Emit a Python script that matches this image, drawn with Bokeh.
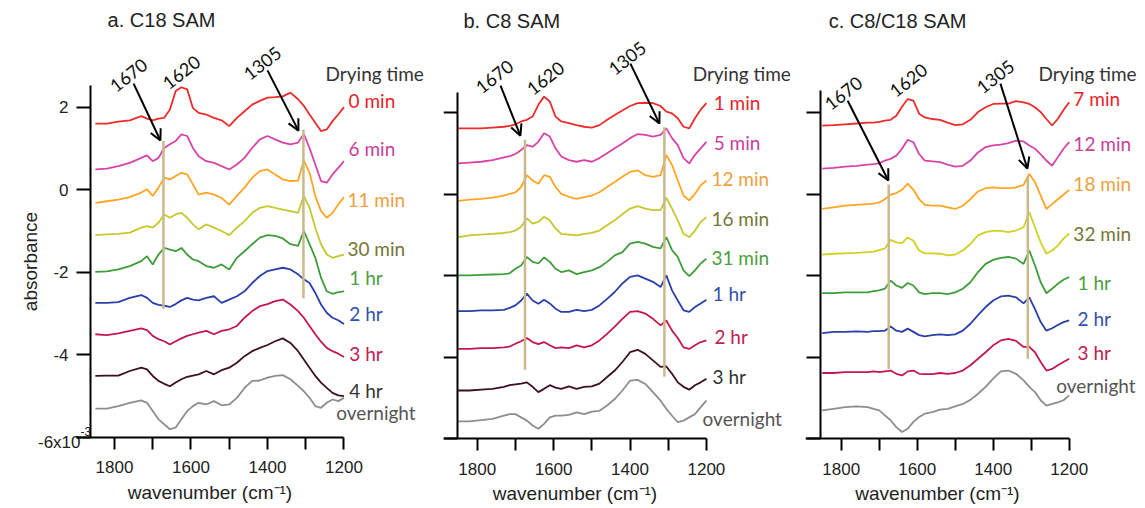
from bokeh.plotting import figure
from bokeh.layouts import row
from bokeh.models import Range1d, FixedTicker, Arrow, OpenHead
from bokeh.embed import file_html
from bokeh.resources import INLINE
from bokeh.core.properties import value

# wavenumber grid (cm-1)
W = [1850, 1820, 1790, 1760, 1730, 1715, 1700, 1685, 1670, 1655, 1640, 1625, 1610, 1595, 1580,
     1560, 1540, 1520, 1500, 1480, 1460, 1440, 1420, 1400, 1380, 1360, 1340, 1320, 1305, 1290,
     1275, 1260, 1245, 1230, 1215, 1200]

# ---- panel a: C18 SAM (absorbance x1e-3, stacked) ----
a_labels = ["0 min", "6 min", "11 min", "30 min", "1 hr", "2 hr", "3 hr", "4 hr", "overnight"]
a_0min = [1.60, 1.60, 1.65, 1.68, 1.78, 1.72, 1.68, 1.72, 1.74, 1.94, 2.39, 2.48, 2.43, 1.98, 1.86, 1.82, 1.74, 1.68, 1.54, 1.74, 1.90, 2.06, 2.15, 2.23, 2.24, 2.26, 2.35, 2.19, 2.03, 1.82, 1.62, 1.42, 1.46, 1.66, 1.82, 2.00]
a_6min = [0.49, 0.51, 0.57, 0.65, 0.77, 0.83, 0.69, 0.77, 1.01, 1.10, 1.18, 1.34, 1.30, 1.01, 0.81, 0.69, 0.65, 0.57, 0.49, 0.61, 0.77, 1.01, 1.22, 1.30, 1.22, 1.14, 1.10, 1.14, 1.35, 1.01, 0.61, 0.21, 0.17, 0.37, 0.53, 0.69]
a_11min = [-0.32, -0.28, -0.24, -0.18, -0.07, 0.01, -0.15, 0.05, 0.29, 0.25, 0.33, 0.41, 0.37, 0.13, -0.12, -0.07, -0.12, -0.20, -0.36, -0.15, 0.05, 0.29, 0.45, 0.49, 0.37, 0.25, 0.21, 0.22, 0.71, 0.41, -0.15, -0.52, -0.68, -0.56, -0.36, -0.18]
a_30min = [-1.10, -1.08, -1.07, -1.04, -0.92, -0.88, -0.92, -0.80, -0.60, -0.68, -0.60, -0.56, -0.68, -0.84, -0.96, -0.84, -0.92, -1.00, -1.10, -0.92, -0.76, -0.56, -0.44, -0.40, -0.44, -0.48, -0.52, -0.56, -0.15, -0.44, -0.92, -1.32, -1.57, -1.65, -1.61, -1.57]
a_1hr = [-1.99, -1.98, -1.93, -1.85, -1.73, -1.61, -1.81, -1.57, -1.41, -1.45, -1.49, -1.41, -1.57, -1.69, -1.73, -1.85, -1.89, -1.81, -1.93, -1.65, -1.49, -1.32, -1.16, -1.10, -1.12, -1.18, -1.32, -1.36, -1.00, -1.32, -1.65, -2.13, -2.46, -2.52, -2.48, -2.46]
a_2hr = [-2.74, -2.74, -2.72, -2.62, -2.55, -2.62, -2.74, -2.79, -2.81, -2.84, -2.77, -2.68, -2.62, -2.66, -2.68, -2.62, -2.58, -2.74, -2.66, -2.58, -2.46, -2.26, -2.09, -1.97, -1.93, -1.89, -1.93, -2.05, -2.17, -2.26, -2.50, -2.78, -2.98, -3.10, -3.16, -3.25]
a_3hr = [-3.50, -3.52, -3.48, -3.42, -3.36, -3.40, -3.54, -3.62, -3.67, -3.75, -3.67, -3.60, -3.54, -3.50, -3.46, -3.42, -3.50, -3.42, -3.38, -3.30, -3.10, -2.94, -2.82, -2.77, -2.70, -2.66, -2.78, -2.94, -3.10, -3.30, -3.50, -3.68, -3.83, -3.91, -3.97, -4.05]
a_4hr = [-4.51, -4.50, -4.50, -4.39, -4.31, -4.35, -4.51, -4.63, -4.70, -4.76, -4.67, -4.59, -4.53, -4.50, -4.47, -4.39, -4.47, -4.37, -4.31, -4.19, -4.03, -3.91, -3.83, -3.76, -3.67, -3.60, -3.71, -3.91, -4.11, -4.31, -4.51, -4.67, -4.80, -4.92, -4.98, -5.00]
a_overnight = [-5.30, -5.30, -5.24, -5.16, -5.10, -5.16, -5.36, -5.56, -5.68, -5.80, -5.76, -5.56, -5.36, -5.24, -5.16, -5.20, -5.12, -5.22, -5.20, -5.04, -4.80, -4.63, -4.62, -4.55, -4.51, -4.49, -4.59, -4.75, -4.88, -5.04, -5.24, -5.28, -5.16, -5.08, -5.12, -5.04]

# ---- panel b: C8 SAM ----
b_labels = ["1 min", "5 min", "12 min", "16 min", "31 min", "1 hr", "2 hr", "3 hr", "overnight"]
b_1min = [1.62, 1.62, 1.62, 1.64, 1.66, 1.68, 1.72, 1.79, 1.83, 1.91, 2.20, 2.40, 2.28, 1.91, 1.79, 1.75, 1.70, 1.66, 1.64, 1.70, 1.83, 1.95, 2.06, 2.17, 2.24, 2.25, 2.24, 2.17, 2.03, 1.99, 1.87, 1.66, 1.62, 1.87, 2.08, 2.24]
b_5min = [0.76, 0.78, 0.80, 0.84, 0.91, 0.94, 0.99, 1.09, 1.21, 1.17, 1.29, 1.50, 1.42, 1.13, 0.93, 0.84, 0.80, 0.84, 0.80, 0.89, 1.01, 1.13, 1.25, 1.38, 1.48, 1.46, 1.42, 1.46, 1.62, 1.38, 1.21, 0.89, 0.76, 0.97, 1.13, 1.29]
b_12min = [-0.16, -0.13, -0.11, -0.08, -0.03, 0.01, 0.05, 0.18, 0.47, 0.34, 0.26, 0.47, 0.43, 0.18, 0.01, -0.06, -0.11, -0.07, -0.03, 0.05, 0.18, 0.30, 0.43, 0.55, 0.59, 0.47, 0.43, 0.47, 0.97, 0.72, 0.34, -0.03, -0.15, 0.01, 0.22, 0.34]
b_16min = [-1.05, -1.01, -0.99, -0.97, -0.95, -0.93, -0.89, -0.80, -0.59, -0.72, -0.68, -0.55, -0.64, -0.84, -0.97, -0.99, -1.01, -0.97, -0.95, -0.89, -0.76, -0.64, -0.49, -0.35, -0.29, -0.35, -0.39, -0.39, -0.08, -0.35, -0.64, -0.97, -1.05, -0.89, -0.68, -0.56]
b_31min = [-1.99, -1.99, -1.98, -1.97, -1.96, -1.94, -1.83, -1.75, -1.54, -1.66, -1.70, -1.55, -1.66, -1.83, -1.91, -1.87, -1.96, -1.91, -1.87, -1.79, -1.66, -1.50, -1.42, -1.21, -1.17, -1.21, -1.29, -1.33, -1.05, -1.37, -1.54, -1.87, -2.01, -1.87, -1.70, -1.58]
b_1hr = [-2.87, -2.87, -2.85, -2.85, -2.84, -2.79, -2.73, -2.61, -2.44, -2.61, -2.69, -2.59, -2.68, -2.81, -2.89, -2.89, -2.84, -2.87, -2.84, -2.73, -2.57, -2.40, -2.19, -2.03, -1.99, -2.07, -2.15, -2.28, -1.99, -2.36, -2.61, -2.85, -2.89, -2.77, -2.68, -2.59]
b_2hr = [-3.80, -3.80, -3.78, -3.78, -3.76, -3.74, -3.67, -3.61, -3.53, -3.63, -3.68, -3.63, -3.71, -3.78, -3.76, -3.78, -3.71, -3.76, -3.71, -3.59, -3.43, -3.25, -3.06, -2.89, -2.87, -2.93, -3.06, -3.22, -3.10, -3.35, -3.53, -3.76, -3.80, -3.71, -3.63, -3.59]
b_3hr = [-4.82, -4.82, -4.80, -4.78, -4.73, -4.69, -4.67, -4.65, -4.62, -4.73, -4.86, -4.78, -4.69, -4.75, -4.78, -4.72, -4.78, -4.73, -4.72, -4.65, -4.49, -4.33, -4.12, -3.88, -3.82, -3.92, -4.08, -4.24, -4.23, -4.41, -4.62, -4.73, -4.80, -4.69, -4.62, -4.53]
b_overnight = [-5.58, -5.58, -5.55, -5.52, -5.44, -5.40, -5.40, -5.48, -5.56, -5.68, -5.76, -5.64, -5.48, -5.44, -5.44, -5.42, -5.36, -5.40, -5.34, -5.32, -5.19, -5.03, -4.82, -4.58, -4.56, -4.66, -4.86, -5.07, -5.27, -5.44, -5.60, -5.56, -5.48, -5.40, -5.23, -5.07]

# ---- panel c: C8/C18 SAM ----
c_labels = ["7 min", "12 min", "18 min", "32 min", "1 hr", "2 hr", "3 hr", "overnight"]
c_7min = [1.69, 1.70, 1.72, 1.74, 1.76, 1.76, 1.78, 1.81, 1.83, 1.93, 2.15, 2.34, 2.30, 1.98, 1.89, 1.85, 1.83, 1.76, 1.70, 1.72, 1.83, 2.02, 2.14, 2.22, 2.23, 2.23, 2.29, 2.26, 2.22, 2.14, 2.02, 1.85, 1.69, 1.85, 2.07, 2.26]
c_12min = [0.63, 0.65, 0.68, 0.70, 0.73, 0.74, 0.76, 0.83, 0.87, 0.95, 1.12, 1.34, 1.28, 0.99, 0.83, 0.81, 0.79, 0.73, 0.68, 0.70, 0.83, 1.03, 1.16, 1.20, 1.22, 1.26, 1.32, 1.30, 1.20, 1.12, 0.98, 0.83, 0.70, 0.91, 1.12, 1.28]
c_18min = [-0.36, -0.32, -0.28, -0.26, -0.24, -0.23, -0.20, -0.12, -0.01, 0.03, 0.11, 0.26, 0.11, -0.12, -0.26, -0.28, -0.28, -0.32, -0.36, -0.28, -0.12, 0.07, 0.15, 0.17, 0.15, 0.15, 0.17, 0.23, 0.50, 0.30, -0.03, -0.36, -0.24, -0.12, -0.01, 0.11]
c_32min = [-1.48, -1.46, -1.45, -1.44, -1.42, -1.41, -1.37, -1.33, -1.12, -1.18, -1.20, -1.06, -1.14, -1.38, -1.45, -1.45, -1.46, -1.50, -1.48, -1.38, -1.22, -1.01, -0.93, -0.90, -0.90, -0.93, -0.89, -0.81, -0.44, -0.81, -1.18, -1.46, -1.38, -1.26, -1.09, -0.97]
c_1hr = [-2.43, -2.43, -2.41, -2.41, -2.41, -2.38, -2.36, -2.32, -2.12, -2.24, -2.30, -2.18, -2.24, -2.41, -2.45, -2.43, -2.43, -2.45, -2.41, -2.32, -2.16, -1.91, -1.71, -1.61, -1.56, -1.54, -1.58, -1.71, -1.38, -1.75, -2.16, -2.43, -2.32, -2.20, -2.10, -2.03]
c_2hr = [-3.41, -3.38, -3.38, -3.37, -3.38, -3.36, -3.36, -3.35, -3.25, -3.35, -3.38, -3.30, -3.38, -3.46, -3.49, -3.46, -3.44, -3.46, -3.44, -3.35, -3.18, -2.97, -2.77, -2.61, -2.51, -2.49, -2.53, -2.68, -2.53, -2.82, -3.14, -3.35, -3.29, -3.21, -3.14, -3.10]
c_3hr = [-4.39, -4.39, -4.37, -4.37, -4.37, -4.35, -4.37, -4.35, -4.33, -4.41, -4.45, -4.35, -4.33, -4.41, -4.42, -4.42, -4.39, -4.41, -4.39, -4.33, -4.20, -4.04, -3.88, -3.71, -3.59, -3.55, -3.60, -3.75, -3.75, -3.88, -4.12, -4.33, -4.29, -4.20, -4.12, -4.04]
c_overnight = [-5.31, -5.27, -5.23, -5.21, -5.23, -5.27, -5.31, -5.43, -5.55, -5.72, -5.84, -5.76, -5.59, -5.47, -5.39, -5.35, -5.29, -5.27, -5.21, -5.15, -5.05, -4.90, -4.73, -4.53, -4.35, -4.33, -4.41, -4.57, -4.73, -4.86, -5.06, -5.19, -5.15, -5.11, -5.06, -4.94]

# tick labels
x_ticks = [1800, 1600, 1400, 1200]
x_minor = [1700, 1500, 1300]
y_ticks = [-6, -4, -2, 0, 2]
y_tick_labels = ["", "-4", "-2", "0", "2"]
peak_labels = ["1670", "1620", "1305"]

LINE_COLORS_9 = ["#ee2b2b", "#d843a8", "#ffa523", "#c5c82e", "#3e9d3a", "#2b3fa8", "#c2184e", "#3d0f1f", "#8e8e8e"]
TEXT_COLORS_9 = ["#e8242a", "#c8409a", "#eea040", "#767634", "#4aa040", "#3050b0", "#c02050", "#333333", "#555555"]
LINE_COLORS_8 = ["#ee2b2b", "#d843a8", "#ffa523", "#d2d024", "#3e9d3a", "#2b3fa8", "#c2184e", "#8e8e8e"]
TEXT_COLORS_8 = ["#e8242a", "#c8409a", "#eea040", "#767634", "#4aa040", "#3050b0", "#c02050", "#555555"]

SANS = "Liberation Sans"
CAL = "Lato"
H = 507
YR = (-7.695, 4.70)


def make_panel(width, xr, yr, yaxis_at, xbound, ytop, series, line_colors, labels, text_colors,
               lab_x, lab_y, title, title_xy, dry_xy, peak_xy, arrows, vlines, show_ylabels):
    p = figure(width=width, height=H, x_range=Range1d(*xr), y_range=Range1d(*yr),
               output_backend="svg", toolbar_location=None,
               min_border_left=0, min_border_right=0, min_border_top=0, min_border_bottom=0)
    p.grid.visible = False
    p.outline_line_color = None
    p.background_fill_color = "white"
    p.border_fill_color = "white"

    xa = p.xaxis[0]
    xa.fixed_location = -6
    xa.ticker = FixedTicker(ticks=x_ticks, minor_ticks=x_minor)
    xa.bounds = (1200, xbound)
    xa.axis_line_width = 2
    xa.major_tick_line_width = 2
    xa.minor_tick_line_width = 2
    xa.major_tick_in = 0
    xa.major_tick_out = 12
    xa.minor_tick_in = 0
    xa.minor_tick_out = 12
    xa.major_label_standoff = 12
    xa.major_label_text_font = SANS
    xa.major_label_text_font_size = "17px"
    xa.major_label_text_color = "#222222"
    xa.major_label_overrides = {t: str(t) for t in x_ticks}
    xa.axis_label = "wavenumber (cm\u207b\u00b9)"
    xa.axis_label_text_font = SANS
    xa.axis_label_text_font_size = "19px"
    xa.axis_label_text_font_style = "normal"
    xa.axis_label_text_color = "#222222"
    xa.axis_label_standoff = 5

    ya = p.yaxis[0]
    ya.fixed_location = yaxis_at
    ya.ticker = FixedTicker(ticks=y_ticks, minor_ticks=[])
    ya.bounds = (-6, ytop)
    ya.axis_line_width = 2
    ya.major_tick_line_width = 2
    ya.major_tick_in = 0
    ya.major_tick_out = 14
    if show_ylabels:
        ya.major_label_overrides = dict(zip(y_ticks, y_tick_labels))
        ya.major_label_standoff = 8
        ya.major_label_text_font = SANS
        ya.major_label_text_font_size = "17px"
        ya.major_label_text_color = "#222222"
        ya.axis_label = "absorbance"
        ya.axis_label_text_font = SANS
        ya.axis_label_text_font_size = "19px"
        ya.axis_label_text_font_style = "normal"
        ya.axis_label_text_color = "#222222"
        ya.axis_label_standoff = 9
    else:
        ya.major_label_overrides = {t: "" for t in y_ticks}
        ya.major_label_standoff = 0
        ya.major_label_text_font_size = "1px"

    for vals, col in zip(series, line_colors):
        p.line(W, vals, line_color=col, line_width=1.8)

    # marker lines at 1670 / 1305
    p.segment(x0=[v[0] for v in vlines], y0=[v[1] for v in vlines],
              x1=[v[0] for v in vlines], y1=[v[2] for v in vlines],
              line_color="#c9b98c", line_width=2.5)

    for (x0, y0, x1, y1) in arrows:
        p.add_layout(Arrow(end=OpenHead(size=11, line_width=2, line_color="black"),
                           x_start=x0, y_start=y0, x_end=x1, y_end=y1,
                           line_width=2, line_color="black"))

    p.text(x=lab_x, y=lab_y, text=labels, text_color=text_colors,
           text_font=value(CAL), text_font_size="19px",
           text_align="left", text_baseline="middle")

    p.text(x=[dry_xy[0]], y=[dry_xy[1]], text=["Drying time"], text_color="#333333",
           text_font=value(CAL), text_font_size="19px",
           text_align="left", text_baseline="middle")

    p.text(x=[title_xy[0]], y=[title_xy[1]], text=[title], text_color="#222222",
           text_font=value(SANS), text_font_size="20px",
           text_align="left", text_baseline="middle")

    p.text(x=[q[0] for q in peak_xy], y=[q[1] for q in peak_xy], text=peak_labels,
           text_color="#111111", text_font=value(CAL), text_font_size="18px",
           angle=38, angle_units="deg", text_align="center", text_baseline="middle")
    return p


pa = make_panel(
    443, (2098.0, 939.8), (-7.695, 4.581), 1862.7, 1899.3, 2.52,
    [a_0min, a_6min, a_11min, a_30min, a_1hr, a_2hr, a_3hr, a_4hr, a_overnight],
    LINE_COLORS_9, a_labels, TEXT_COLORS_9,
    [1188, 1188, 1191, 1191, 1186, 1186, 1186, 1186, 1220],
    [2.16, 1.00, -0.24, -1.42, -2.13, -3.00, -3.97, -4.86, -5.39],
    "a. C18 SAM", (1818, 4.10), (1248, 2.81),
    [(1763, 2.77), (1625, 2.84), (1413, 3.06)],
    [(1750, 2.57, 1680, 1.19), (1400, 2.89, 1319, 1.43)],
    [(1672, 1.18, -2.89), (1306, 1.46, -2.63)],
    True)

# exponent label of the y axis, as in the original
pa.text(x=[1888.8], y=[-6.12], text=["-6x10"], text_color="#222222",
        text_font=value(SANS), text_font_size="17px", text_align="right", text_baseline="middle")
pa.text(x=[1888.8], y=[-5.86], text=["-3"], text_color="#222222",
        text_font=value(SANS), text_font_size="12px", text_align="left", text_baseline="middle")

pb = make_panel(
    362, (1888.3, 940.6), (-7.695, 4.762), 1851.6, 1888.3, 2.5,
    [b_1min, b_5min, b_12min, b_16min, b_31min, b_1hr, b_2hr, b_3hr, b_overnight],
    LINE_COLORS_9, b_labels, TEXT_COLORS_9[:7] + ["#333333", "#555555"],
    [1181, 1181, 1187, 1187, 1187, 1184, 1179, 1184, 1210],
    [2.26, 1.27, 0.39, -0.59, -1.55, -2.44, -3.49, -4.48, -5.51],
    "b. C8 SAM", (1836, 4.27), (1236, 2.97),
    [(1755, 2.89), (1621, 2.85), (1407, 3.34)],
    [(1739, 2.67, 1687, 1.44), (1399, 3.21, 1323, 1.74)],
    [(1675, 1.34, -4.31), (1310, 1.65, -4.48)],
    False)

pc = make_panel(
    339, (1894.0, 1001.8), (-7.695, 4.762), 1854.5, 1894.0, 2.55,
    [c_7min, c_12min, c_18min, c_32min, c_1hr, c_2hr, c_3hr, c_overnight],
    LINE_COLORS_8, c_labels, TEXT_COLORS_8,
    [1189, 1189, 1189, 1189, 1178, 1178, 1178, 1234],
    [2.35, 1.25, 0.27, -0.96, -2.17, -3.05, -3.89, -4.70],
    "c. C8/C18 SAM", (1833, 4.27), (1281, 2.97),
    [(1794, 2.48), (1623, 2.80), (1394, 2.89)],
    [(1783, 2.30, 1676, 0.34), (1381, 2.72, 1310, 0.63)],
    [(1675, 0.24, -4.29), (1309, 0.42, -4.04)],
    False)

layout = row(pa, pb, pc)
open("out.html", "w").write(file_html(layout, INLINE))
